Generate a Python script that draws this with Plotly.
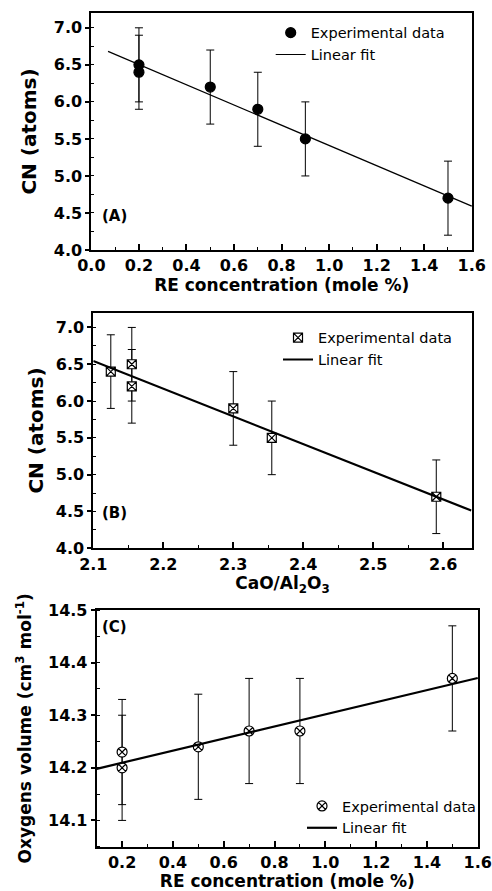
import numpy as np
import plotly.graph_objects as go

# ---- data ----------------------------------------------------------------
# (A) coordination number vs RE concentration
re_conc = [0.2, 0.2, 0.5, 0.7, 0.9, 1.5]
cn_a = [6.5, 6.4, 6.2, 5.9, 5.5, 4.7]
cn_a_err = [0.5, 0.5, 0.5, 0.5, 0.5, 0.5]
fit_span_a = [0.07, 1.6]

# (B) coordination number vs CaO/Al2O3 ratio
cao_al2o3 = [2.155, 2.125, 2.155, 2.30, 2.355, 2.59]
cn_b = [6.5, 6.4, 6.2, 5.9, 5.5, 4.7]
cn_b_err = [0.5, 0.5, 0.5, 0.5, 0.5, 0.5]
fit_span_b = [2.1, 2.64]

# (C) oxygen molar volume vs RE concentration
re_conc_c = [0.2, 0.2, 0.5, 0.7, 0.9, 1.5]
ox_vol = [14.23, 14.20, 14.24, 14.27, 14.27, 14.37]
ox_vol_err = [0.10, 0.10, 0.10, 0.10, 0.10, 0.10]
fit_span_c = [0.1, 1.6]


def linear_fit(x, y, span):
    slope, intercept = np.polyfit(x, y, 1)
    xs = np.array(span)
    return xs, slope * xs + intercept


FONT = "DejaVu Sans"
W, H = 492, 891

fig = go.Figure()

panels = [
    dict(x=re_conc, y=cn_a, e=cn_a_err, span=fit_span_a, xa="x", ya="y",
         leg="legend", sym="circle", mcolor="black", msize=10, lw=1.2),
    dict(x=cao_al2o3, y=cn_b, e=cn_b_err, span=fit_span_b, xa="x2", ya="y2",
         leg="legend2", sym="square-x", mcolor="white", msize=9, lw=2.2),
    dict(x=re_conc_c, y=ox_vol, e=ox_vol_err, span=fit_span_c, xa="x3", ya="y3",
         leg="legend3", sym="circle-x", mcolor="white", msize=10, lw=2.2),
]

for p in panels:
    fx, fy = linear_fit(p["x"], p["y"], p["span"])
    fig.add_trace(go.Scatter(
        x=p["x"], y=p["y"], mode="markers", name="Experimental data",
        xaxis=p["xa"], yaxis=p["ya"], legend=p["leg"],
        marker=dict(symbol=p["sym"], size=p["msize"], color=p["mcolor"],
                    line=dict(color="black", width=1.2)),
        error_y=dict(type="data", array=p["e"], visible=True,
                     color="black", thickness=1, width=4),
    ))
    fig.add_trace(go.Scatter(
        x=fx, y=fy, mode="lines", name="Linear fit",
        xaxis=p["xa"], yaxis=p["ya"], legend=p["leg"],
        line=dict(color="black", width=p["lw"]),
    ))

tick_font = dict(family=FONT, size=16, color="black")


def x_axis(domain, rng, dtick, minor_dtick, title, anchor, title_size=17, standoff=4, tick0=None):
    ax = dict(
        domain=domain, range=rng, anchor=anchor, dtick=dtick, tickformat=".1f",
        tickprefix="<b>", ticksuffix="</b>", ticklabeloverflow="allow",
        showline=True, linecolor="black", linewidth=2, mirror=True,
        showgrid=False, zeroline=False,
        ticks="inside", ticklen=6, tickwidth=1.5, tickcolor="black",
        minor=dict(ticks="inside", ticklen=3, tickwidth=1.2, tickcolor="black", dtick=minor_dtick),
        tickfont=tick_font,
        title=dict(text=title, standoff=standoff,
                   font=dict(family=FONT, size=title_size, color="black", weight="bold")),
        automargin=False,
    )
    if tick0 is not None:
        ax["tick0"] = tick0
    return ax


def y_axis(domain, rng, dtick, minor_dtick, title, anchor, title_size=20, standoff=12):
    return dict(
        domain=domain, range=rng, anchor=anchor, dtick=dtick, tickformat=".1f",
        tickprefix="<b>", ticksuffix="</b>", ticklabeloverflow="allow",
        showline=True, linecolor="black", linewidth=2, mirror=True,
        showgrid=False, zeroline=False,
        ticks="outside", ticklen=4, tickwidth=1.5, tickcolor="black",
        minor=dict(ticks="inside", ticklen=3, tickwidth=1.2, tickcolor="black", dtick=minor_dtick),
        tickfont=tick_font,
        title=dict(text=title, standoff=standoff,
                   font=dict(family=FONT, size=title_size, color="black", weight="bold")),
        automargin=False,
    )


def px_dom(a, b, total, flip=False):
    if flip:
        return [1 - b / total, 1 - a / total]
    return [a / total, b / total]


legend_style = dict(font=dict(family=FONT, size=14.5, color="black"),
                    bgcolor="rgba(0,0,0,0)", borderwidth=0,
                    xanchor="left", yanchor="top", tracegroupgap=0)

fig.update_layout(
    width=W, height=H,
    margin=dict(l=0, r=0, t=0, b=0),
    paper_bgcolor="white", plot_bgcolor="white",
    xaxis=x_axis(px_dom(91.4, 472, W), [0, 1.601], 0.2, 0.1,
                 "RE concentration (mole %)", "y"),
    yaxis=y_axis(px_dom(13, 250, H, True), [4.0, 7.2], 0.5, 0.25,
                 "CN (atoms)", "x"),
    xaxis2=x_axis(px_dom(93.3, 471.7, W), [2.1, 2.6406], 0.1, 0.05,
                  "CaO/Al<sub>2</sub>O<sub>3</sub>", "y2"),
    yaxis2=y_axis(px_dom(312.7, 548.3, H, True), [4.0, 7.2], 0.5, 0.25,
                  "CN (atoms)", "x2", standoff=7),
    xaxis3=x_axis(px_dom(96.7, 478, W), [0.1, 1.601], 0.2, 0.1,
                  "RE concentration (mole %)", "y3", tick0=0),
    yaxis3=y_axis(px_dom(610, 846.7, H, True), [14.05, 14.5001], 0.1, 0.05,
                  "Oxygens volume (cm<sup>3</sup> mol<sup>-1</sup>)", "x3",
                  title_size=17, standoff=12),
    legend=dict(x=270.7 / W, y=1 - 16.7 / H, **legend_style),
    legend2=dict(x=278 / W, y=1 - 321.7 / H, **legend_style),
    legend3=dict(x=302 / W, y=1 - 790 / H, **legend_style),
    showlegend=True,
)

for label, yy in [("(A)", 216), ("(B)", 513.3), ("(C)", 626.7)]:
    fig.add_annotation(
        text=label, xref="paper", yref="paper", x=100 / W, y=1 - yy / H,
        xanchor="left", yanchor="middle", showarrow=False,
        font=dict(family=FONT, size=15, color="black", weight="bold"),
    )

fig.write_html("out.html")
